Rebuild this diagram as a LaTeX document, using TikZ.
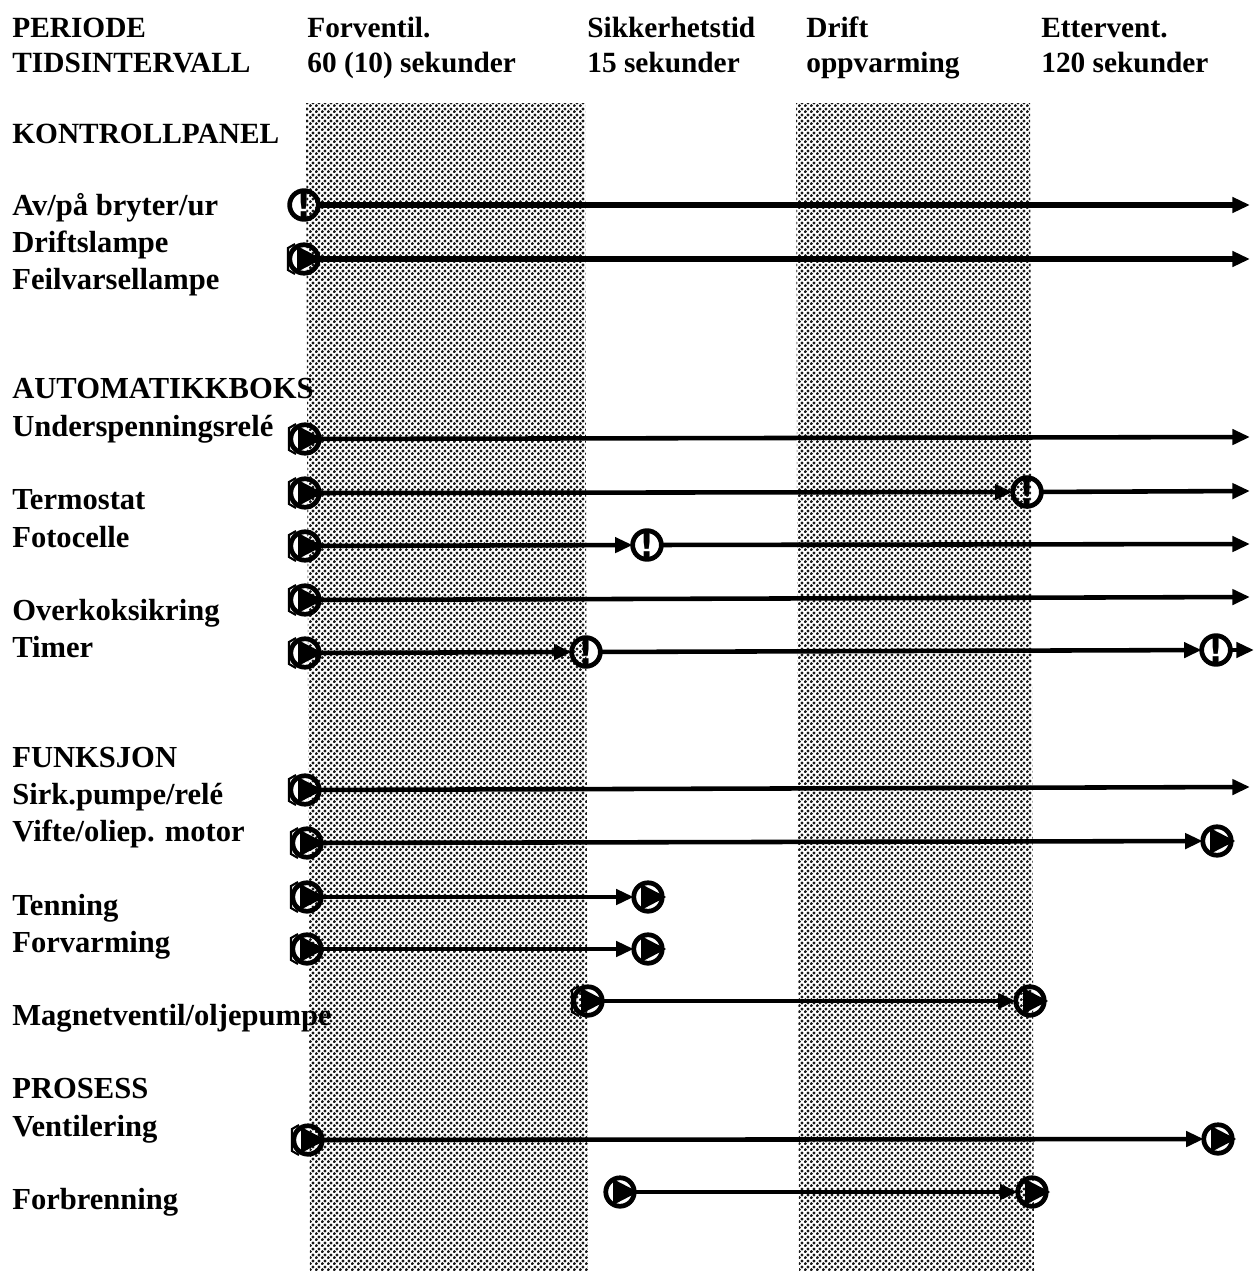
\documentclass[tikz,border=0pt]{standalone}
\usepackage{fontspec}
\setmainfont{Liberation Serif}
\newfontfamily\markfont{DejaVu Sans}
\usetikzlibrary{arrows.meta,patterns,calc}
\pgfdeclarepatternformonly{dither}{\pgfpointorigin}{\pgfqpoint{3.2pt}{3.2pt}}{\pgfqpoint{3.2pt}{3.2pt}}{
  \pgfpathcircle{\pgfqpoint{0.8pt}{0.8pt}}{1.0pt}
  \pgfpathcircle{\pgfqpoint{2.4pt}{2.4pt}}{1.0pt}
  \pgfusepath{fill}
}
\tikzset{
  x=0.02cm,y=-0.02cm,
  lab/.style={anchor=base west,inner sep=0pt,font=\bfseries\fontsize{17.4pt}{19pt}\selectfont,text=black},
  headlab/.style={lab,font=\bfseries\fontsize{16.7pt}{18pt}\selectfont},
  band/.style={pattern=dither,pattern color=black!90},
  symbase/.style={circle,draw=black,line width=2.7pt,minimum size=16.2pt,inner sep=0pt,outer sep=0pt},
  warnmark/.style={symbase,font=\markfont\bfseries\fontsize{19pt}{19pt}\selectfont},
  playmark/.style={symbase,append after command={\pgfextra{\fill[black] ($(\tikzlastnode.center)+(-7,-13)$) -- ($(\tikzlastnode.center)+(18,0)$) -- ($(\tikzlastnode.center)+(-7,13)$) -- cycle;}}},
  startplay/.style={playmark,append after command={\pgfextra{\draw[line width=1.2pt,black] ($(\tikzlastnode.center)+(-9,-15)$) -- ($(\tikzlastnode.center)+(-16,-11)$) -- ($(\tikzlastnode.center)+(-16,11)$) -- ($(\tikzlastnode.center)+(-9,15)$);}}},
  flow/.style={line width=2.6pt,-{Triangle[length=10pt,width=8.5pt]}},
  heavy/.style={line width=3.1pt},
}
\begin{document}
\begin{tikzpicture}
\useasboundingbox (0,0) rectangle (1255,1271);
\fill[white] (0,0) rectangle (1255,1271);
\fill[band] (306,103) -- (585,103) -- (588,1271) -- (310,1271) -- cycle;
\fill[band] (796,103) -- (1030,103) -- (1034,1271) -- (799,1271) -- cycle;

\node[headlab] (h1) at (12,37) {PERIODE};
\node[headlab] (h2) at (12,72) {TIDSINTERVALL};
\node[headlab] (h3) at (307,37) {Forventil.};
\node[headlab] (h4) at (307,72) {60 (10) sekunder};
\node[headlab] (h5) at (587,37) {Sikkerhetstid};
\node[headlab] (h6) at (587,72) {15 sekunder};
\node[headlab] (h7) at (806,37) {Drift};
\node[headlab] (h8) at (806,72) {oppvarming};
\node[headlab] (h9) at (1041,37) {Ettervent.};
\node[headlab] (h10) at (1041,72) {120 sekunder};

\node[headlab] (l1) at (12,143) {KONTROLLPANEL};
\node[lab] (l2) at (12,215) {Av/på bryter/ur};
\node[lab] (l3) at (12,252) {Driftslampe};
\node[lab] (l4) at (12,289) {Feilvarsellampe};
\node[lab] (l5) at (12,398) {AUTOMATIKKBOKS};
\node[lab] (l6) at (12,436) {Underspenningsrelé};
\node[lab] (l7) at (12,509) {Termostat};
\node[lab] (l8) at (12,547) {Fotocelle};
\node[lab] (l9) at (12,620) {Overkoksikring};
\node[lab] (l10) at (12,657) {Timer};
\node[lab] (l11) at (12,767) {FUNKSJON};
\node[lab] (l12) at (12,804) {Sirk.pumpe/relé};
\node[lab] (l13) at (12,841) {Vifte/oliep. motor};
\node[lab] (l14) at (12,915) {Tenning};
\node[lab] (l15) at (12,952) {Forvarming};
\node[lab] (l16) at (12,1025) {Magnetventil/oljepumpe};
\node[lab] (l17) at (12,1098) {PROSESS};
\node[lab] (l18) at (12,1136) {Ventilering};
\node[lab] (l19) at (12,1209) {Forbrenning};

% rows
\node[warnmark] (a1) at (304,205) {!};
\coordinate (a2) at (1250,205);
\draw[flow,heavy] (a1) -- (a2);

\node[startplay] (b1) at (304,259) {};
\coordinate (b2) at (1250,259);
\draw[flow,heavy] (b1) -- (b2);

\node[startplay] (c1) at (305,439) {};
\coordinate (c2) at (1250,437);
\draw[flow] (c1) -- (c2);

\node[startplay] (d1) at (305,493) {};
\node[warnmark] (d2) at (1027,492) {!};
\coordinate (d3) at (1250,491);
\draw[flow] (d1) -- (d2);
\draw[flow] (d2) -- (d3);

\node[startplay] (e1) at (305,546) {};
\node[warnmark] (e2) at (647,545) {!};
\coordinate (e3) at (1250,544);
\draw[flow] (e1) -- (e2);
\draw[flow] (e2) -- (e3);

\node[startplay] (f1) at (305,600) {};
\coordinate (f2) at (1250,597);
\draw[flow] (f1) -- (f2);

\node[startplay] (g1) at (305,653) {};
\node[warnmark] (g2) at (586,652) {!};
\node[warnmark] (g3) at (1216,650) {!};
\coordinate (g4) at (1254,650);
\draw[flow] (g1) -- (g2);
\draw[flow] (g2) -- (g3);
\draw[flow] (g3) -- (g4);

\node[startplay] (k1) at (305,790) {};
\coordinate (k2) at (1250,787);
\draw[flow] (k1) -- (k2);

\node[startplay] (m1) at (307,843) {};
\node[playmark] (m2) at (1217,841) {};
\draw[flow] (m1) -- (m2);

\node[startplay] (n1) at (307,897) {};
\node[playmark] (n2) at (648,897) {};
\draw[flow] (n1) -- (n2);

\node[startplay] (o1) at (307,949) {};
\node[playmark] (o2) at (648,949) {};
\draw[flow] (o1) -- (o2);

\node[startplay] (p1) at (588,1001) {};
\node[playmark] (p2) at (1030,1001) {};
\draw[flow] (p1) -- (p2);

\node[startplay] (q1) at (308,1140) {};
\node[playmark] (q2) at (1218,1139) {};
\draw[flow] (q1) -- (q2);

\node[playmark] (r1) at (620,1192) {};
\node[playmark] (r2) at (1032,1192) {};
\draw[flow] (r1) -- (r2);
\end{tikzpicture}
\end{document}
